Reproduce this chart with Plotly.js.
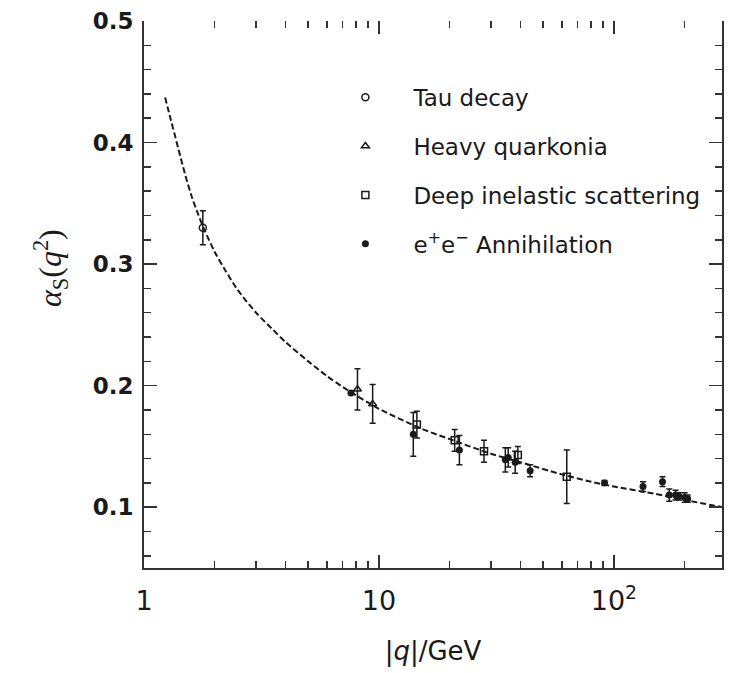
<!DOCTYPE html>
<html>
<head>
<meta charset="utf-8">
<script src="https://cdn.plot.ly/plotly-3.0.1.min.js"></script>
<style>
html,body{margin:0;padding:0;background:#fff;}
#chart{width:736px;height:673px;}
</style>
</head>
<body>
<div id="chart"></div>
<script>
// Running coupling curve
var curveQ = [1.23, 1.3, 1.4, 1.5, 1.6, 1.7, 1.8, 2.0, 2.2, 2.5, 3.0, 3.5, 4.0, 5, 6, 7, 8, 10, 15, 20, 30, 40, 60, 80, 100, 150, 200, 290];
var curveA = [0.437, 0.419, 0.395, 0.373, 0.355, 0.341, 0.329, 0.310, 0.296, 0.279, 0.260, 0.247, 0.236, 0.220, 0.208, 0.199, 0.192, 0.181, 0.165, 0.156, 0.144, 0.137, 0.127, 0.121, 0.117, 0.111, 0.106, 0.100];

// Tau decay
var tauQ = [1.78];
var tauA = [0.330];
var tauE = [0.014];

// Heavy quarkonia
var hqQ = [8.1, 9.4];
var hqA = [0.197, 0.185];
var hqE = [0.017, 0.016];

// Deep inelastic scattering
var disQ = [14.5, 21, 28, 39, 63];
var disA = [0.168, 0.155, 0.146, 0.143, 0.125];
var disE = [0.011, 0.009, 0.009, 0.007, 0.022];

// e+e- annihilation
var eeQ = [7.6, 14, 22, 34.5, 35.5, 38, 44, 91.2, 133, 161, 172, 183, 189, 200, 206];
var eeA = [0.194, 0.160, 0.147, 0.139, 0.141, 0.137, 0.130, 0.120, 0.117, 0.121, 0.110, 0.110, 0.109, 0.108, 0.107];
var eeE = [0, 0.018, 0.012, 0.010, 0.008, 0.009, 0.005, 0.002, 0.004, 0.004, 0.005, 0.004, 0.003, 0.004, 0.003];

// Axis ticks
var xTickVals = [1, 10, 100];
var xTickText = ['1', '10', '10<sup>2</sup>'];
var xMinorVals = [2,3,4,5,6,7,8,9,20,30,40,50,60,70,80,90,200];
var yTickVals = [0.1, 0.2, 0.3, 0.4, 0.5];
var yTickText = ['0.1','0.2','0.3','0.4','0.5'];

var ink = '#1a1a1a';
function errBar(arr){ return {type:'data', array:arr, visible:true, color:ink, thickness:1.5, width:3}; }

var traces = [
  {x: curveQ, y: curveA, mode:'lines', line:{color:ink, width:2, dash:'6px,3px', shape:'spline', smoothing:0.8}, showlegend:false, hoverinfo:'skip'},
  {x: tauQ, y: tauA, mode:'markers', name:'Tau decay', legendgroup:'a',
   marker:{symbol:'circle-open', size:7, color:ink, line:{width:1.5}}, error_y: errBar(tauE)},
  {x: hqQ, y: hqA, mode:'markers', name:'Heavy quarkonia', legendgroup:'b',
   marker:{symbol:'triangle-up-open', size:7, color:ink, line:{width:1.5}}, error_y: errBar(hqE)},
  {x: disQ, y: disA, mode:'markers', name:'Deep inelastic scattering', legendgroup:'c',
   marker:{symbol:'square-open', size:7, color:ink, line:{width:1.5}}, error_y: errBar(disE)},
  {x: eeQ, y: eeA, mode:'markers', name:'e<sup>+</sup>e<sup>\u2212</sup> Annihilation', legendgroup:'d',
   marker:{symbol:'circle', size:7, color:ink}, error_y: errBar(eeE)},
  {x: curveQ, y: curveA, xaxis:'x2', mode:'lines', line:{width:0}, opacity:0, showlegend:false, hoverinfo:'skip'}
];

var layout = {
  width: 736, height: 673,
  margin: {l:144, r:14, t:21, b:105},
  paper_bgcolor:'#fff', plot_bgcolor:'#fff',
  font: {family:'DejaVu Sans, sans-serif', color: ink},
  showlegend: true,
  legend: {
    x: 0.30, y: 0.90, xanchor:'left', yanchor:'top',
    bgcolor:'rgba(0,0,0,0)', borderwidth:0,
    font:{family:'DejaVu Sans, sans-serif', size:23, color:ink},
    itemwidth: 86, tracegroupgap: 16, traceorder:'grouped'
  },
  xaxis: {
    type:'log', range:[0, 2.46],
    tickmode:'array', tickvals:xTickVals, ticktext:xTickText,
    ticks:'inside', ticklen:13, tickwidth:1.5, tickcolor:'#333',
    showline:true, linecolor:'#333', linewidth:2, mirror:false,
    showgrid:false, zeroline:false, ticklabelstandoff:8,
    tickfont:{family:'DejaVu Sans, sans-serif', size:27, color:ink},
    minor:{tickmode:'array', tickvals:xMinorVals, ticks:'inside', ticklen:7, tickwidth:1.5, tickcolor:'#333', showgrid:false},
    title:{text:'|<i>q</i>|/GeV', font:{family:'DejaVu Sans, sans-serif', size:26, color:ink}, standoff:26}
  },
  xaxis2: {
    type:'log', range:[0, 2.46], overlaying:'x', side:'top',
    tickmode:'array', tickvals:xTickVals, showticklabels:false,
    ticks:'inside', ticklen:13, tickwidth:1.5, tickcolor:'#333',
    showline:false, showgrid:false, zeroline:false,
    minor:{tickmode:'array', tickvals:xMinorVals, ticks:'inside', ticklen:7, tickwidth:1.5, tickcolor:'#333', showgrid:false}
  },
  yaxis: {
    range:[0.05, 0.5],
    tickmode:'array', tickvals:yTickVals, ticktext:yTickText,
    ticks:'inside', ticklen:13, tickwidth:1.5, tickcolor:'#333',
    showline:true, linecolor:'#333', linewidth:2, mirror:'ticks',
    showgrid:false, zeroline:false, ticklabelstandoff:4,
    tickfont:{family:'DejaVu Sans, sans-serif', size:23, color:ink, weight:'bold'},
    minor:{dtick:0.02, tick0:0.0, ticks:'inside', ticklen:7, tickwidth:1.5, tickcolor:'#333', showgrid:false}
  },
  annotations: [{
    text:'<i>\u03b1</i><sub>S</sub>(<i>q</i><sup>2</sup>)', textangle:-90,
    xref:'paper', yref:'paper', x:-0.163, y:0.548, xanchor:'center', yanchor:'middle',
    showarrow:false, font:{family:'Liberation Serif, serif', size:32, color:ink}
  }]
};

Plotly.newPlot('chart', traces, layout, {displayModeBar:false, staticPlot:true});
</script>
</body>
</html>
